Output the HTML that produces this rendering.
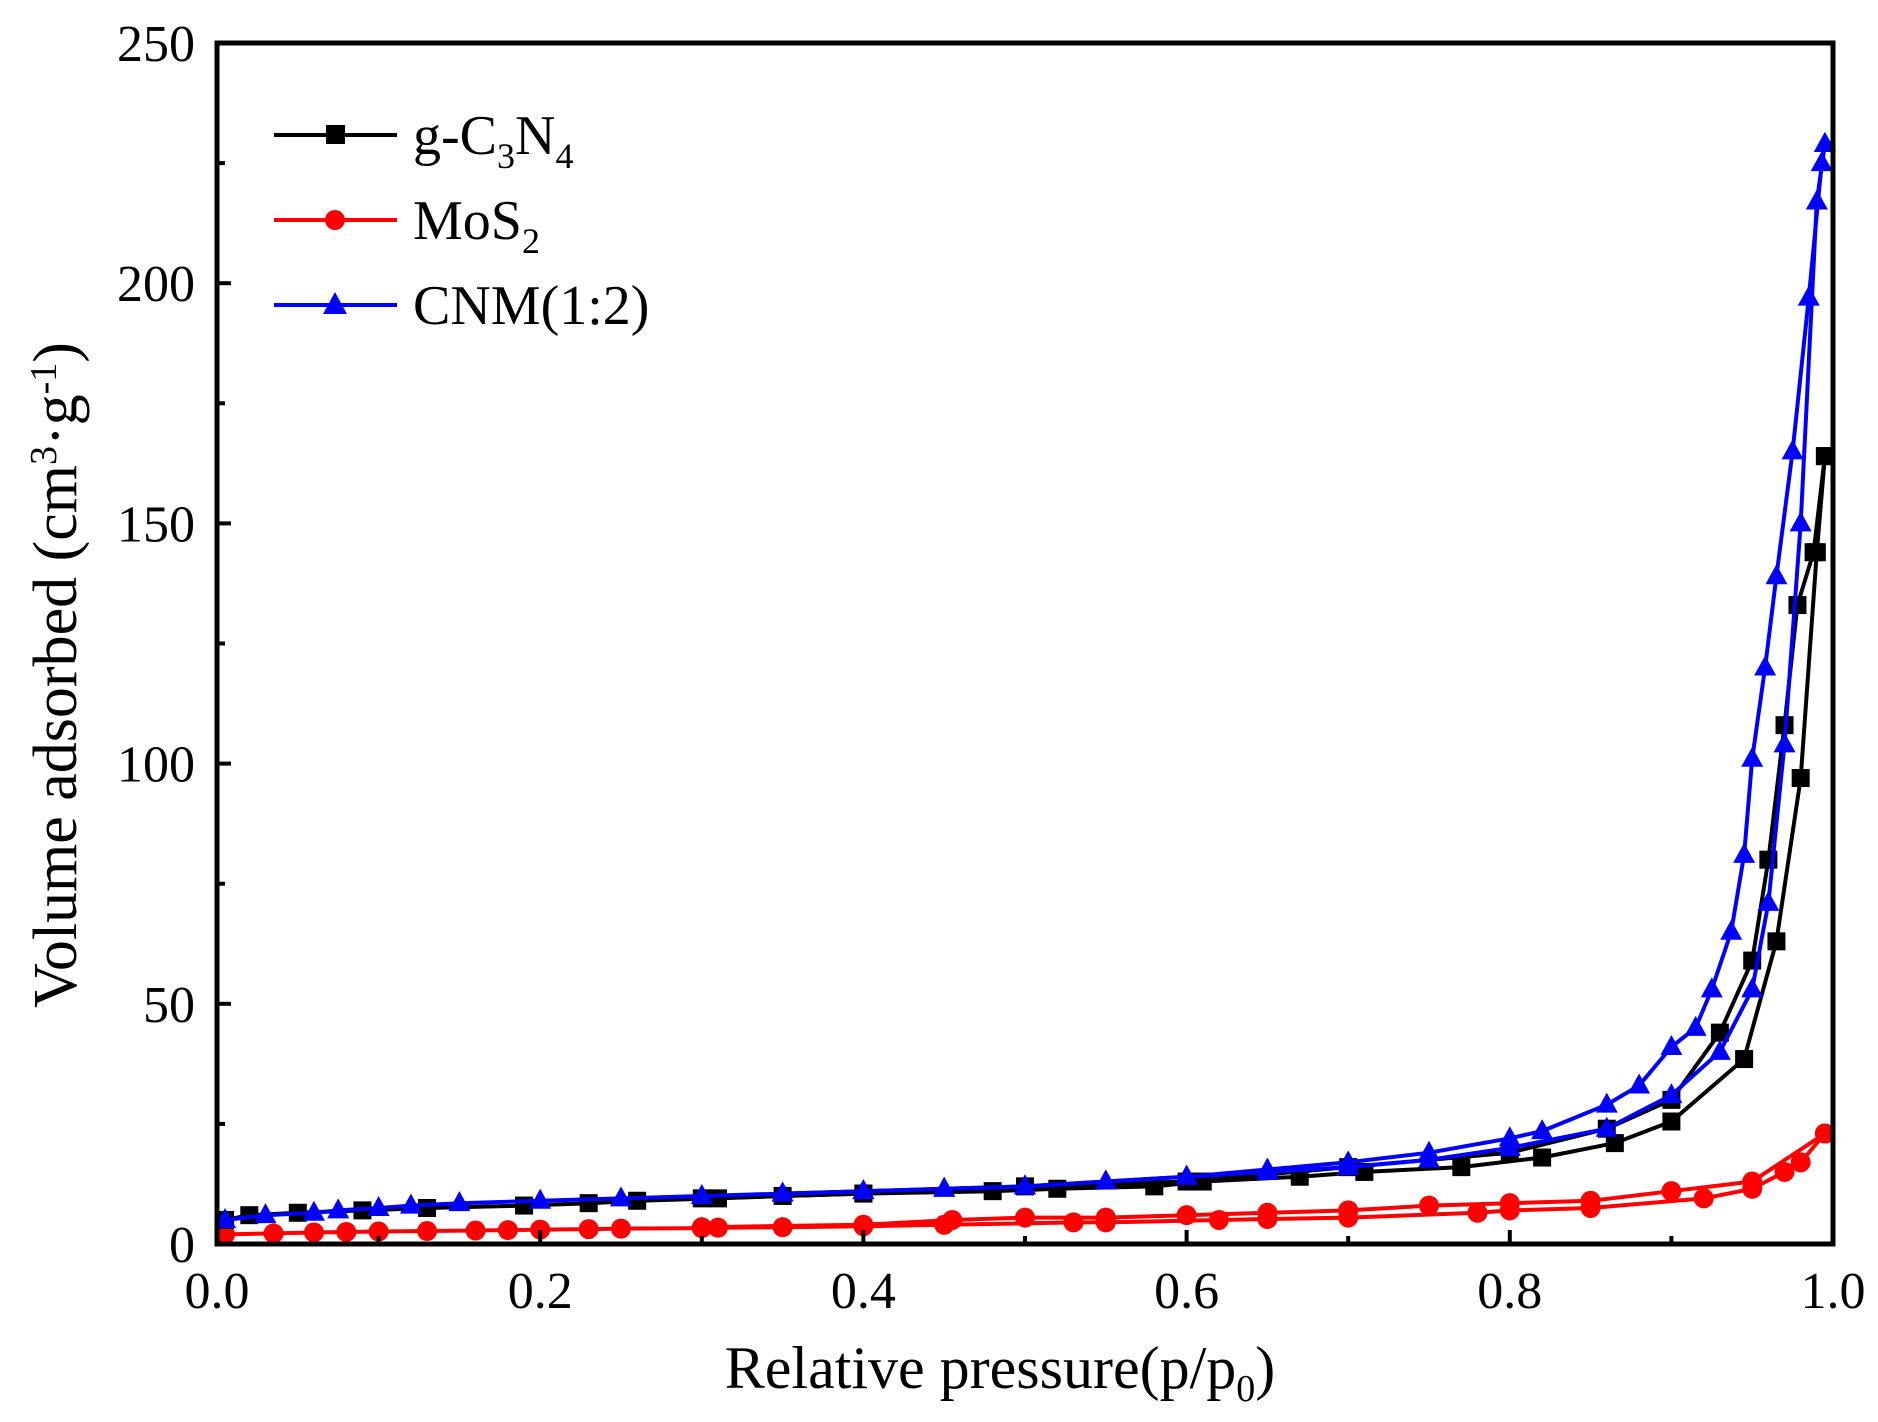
<!DOCTYPE html>
<html><head><meta charset="utf-8"><style>
html,body{margin:0;padding:0;background:#fff;}
svg text{font-family:"Liberation Serif",serif;fill:#000;}
</style></head><body>
<svg id="chart" width="1878" height="1417" viewBox="0 0 1878 1417" xmlns="http://www.w3.org/2000/svg">
<g id="plot"></g>
<g id="axes"></g>
<g>
  <g>
    <line x1="274" y1="135" x2="397" y2="135" stroke="#000" stroke-width="4"/>
    <rect x="326" y="125" width="19" height="19" fill="#000"/>
    <text x="413" y="154" font-size="56">g-C<tspan font-size="36" dy="14">3</tspan><tspan dy="-14">N</tspan><tspan font-size="36" dy="14">4</tspan></text>
  </g>
  <g>
    <line x1="274" y1="220" x2="397" y2="220" stroke="#f00" stroke-width="4"/>
    <circle cx="335" cy="220" r="10" fill="#f00"/>
    <text x="413" y="239" font-size="56">MoS<tspan font-size="36" dy="14">2</tspan></text>
  </g>
  <g>
    <line x1="274" y1="305" x2="397" y2="305" stroke="#00f" stroke-width="4"/>
    <polygon points="335,292 347,314 323,314" fill="#00f"/>
    <text x="413" y="324" font-size="56">CNM(1:2)</text>
  </g>
</g>
<text x="1000" y="1388" font-size="60" text-anchor="middle">Relative pressure(p/p<tspan font-size="38" dy="13">0</tspan><tspan dy="-13">)</tspan></text>
<text transform="translate(76,675) rotate(-90)" font-size="62" text-anchor="middle">Volume adsorbed (cm<tspan font-size="38" dy="-20">3</tspan><tspan dy="20">·g</tspan><tspan font-size="38" dy="-20">-1</tspan><tspan dy="20">)</tspan></text>
</svg>
<script>
const xTicks=[0,0.2,0.4,0.6,0.8,1.0];
const xTickLabels=["0.0","0.2","0.4","0.6","0.8","1.0"];
const yTicks=[0,50,100,150,200,250];
const yTickLabels=["0","50","100","150","200","250"];
const gAdsX=[0.005,0.02,0.05,0.09,0.13,0.19,0.23,0.26,0.31,0.35,0.40,0.48,0.52,0.58,0.61,0.67,0.71,0.77,0.82,0.865,0.9,0.945,0.965,0.98,0.99,0.995];
const gAdsY=[5,6,6.5,7,7.5,8,8.5,9,9.5,10,10.5,11,11.5,12,13,14,15,16,18,21,25.5,38.5,63,97,144,164];
const gDesX=[0.995,0.988,0.978,0.97,0.96,0.95,0.93,0.9,0.86,0.8,0.7,0.6,0.5,0.4,0.3];
const gDesY=[164,144,133,108,80,59,44,30,24,19,16,13,12,10.5,9.5];
const mAdsX=[0.005,0.035,0.06,0.08,0.1,0.13,0.16,0.18,0.2,0.23,0.25,0.3,0.31,0.35,0.40,0.45,0.53,0.55,0.62,0.65,0.70,0.78,0.8,0.85,0.92,0.95,0.97,0.98,0.995];
const mAdsY=[2,2.2,2.4,2.5,2.6,2.7,2.8,2.9,3,3.1,3.2,3.3,3.4,3.5,3.7,4,4.5,4.5,5,5.2,5.5,6.5,7,7.5,9.5,11.5,15,17,23];
const mDesX=[0.995,0.95,0.9,0.85,0.8,0.75,0.7,0.65,0.6,0.55,0.5,0.455,0.4,0.3];
const mDesY=[23,13,11,9,8.5,8,7,6.5,6,5.5,5.5,5,4,3.5];
const cAdsX=[0.005,0.03,0.06,0.075,0.1,0.12,0.15,0.2,0.25,0.3,0.35,0.4,0.45,0.5,0.55,0.6,0.65,0.7,0.75,0.8,0.86,0.9,0.93,0.95,0.96,0.97,0.98,0.99,0.995];
const cAdsY=[5,6,6.5,7,7.5,8,8.5,9,9.5,10,10.5,11,11.5,12,13,14,15,16,17.5,20,24,31,40,53,71,104,150,217,229];
const cDesX=[0.995,0.993,0.985,0.975,0.965,0.958,0.95,0.945,0.937,0.925,0.915,0.9,0.88,0.86,0.82,0.8,0.75,0.7,0.65,0.6,0.55,0.5,0.45,0.4,0.35];
const cDesY=[229,225,197,165,139,120,101,81,65,53,45,41,33,29,23.5,22,19,17,15.5,14,13,12,11.5,11,10.5];

const L=217,R=1833,T=43,B=1244;
const sx=v=>L+v*(R-L);
const sy=v=>B-v/250*(B-T);
const NS="http://www.w3.org/2000/svg";
const plot=document.getElementById('plot'),axes=document.getElementById('axes');
function mk(tag,attrs,parent){const e=document.createElementNS(NS,tag);for(const k in attrs)e.setAttribute(k,attrs[k]);parent.appendChild(e);return e;}
function series(xs,ys,color,shape,name){
  const g=mk('g',{},plot);
  
  
  const pts=xs.map((x,i)=>sx(x).toFixed(1)+','+sy(ys[i]).toFixed(1)).join(' ');
  const pl=mk('polyline',{points:pts,fill:'none',stroke:color,'stroke-width':4,'stroke-linejoin':'round'},g);
  
  
  xs.forEach((x,i)=>{
    const cx=sx(x),cy=sy(ys[i]);let m;
    if(shape==='sq')m=mk('rect',{x:cx-9,y:cy-9,width:18,height:18,fill:color},g);
    else if(shape==='ci')m=mk('circle',{cx:cx,cy:cy,r:10,fill:color},g);
    else m=mk('polygon',{points:`${cx},${cy-12} ${cx+11},${cy+8} ${cx-11},${cy+8}`,fill:color},g);
    
    
  });
}
series(mAdsX,mAdsY,'#f00','ci','mos2-adsorption');
series(mDesX,mDesY,'#f00','ci','mos2-desorption');
series(gAdsX,gAdsY,'#000','sq','gc3n4-adsorption');
series(gDesX,gDesY,'#000','sq','gc3n4-desorption');
series(cAdsX,cAdsY,'#00f','tr','cnm-adsorption');
series(cDesX,cDesY,'#00f','tr','cnm-desorption');

const frame=mk('rect',{x:L,y:T,width:R-L,height:B-T,fill:'none',stroke:'#000','stroke-width':5},axes);


xTicks.forEach((v,i)=>{
  const x=sx(v);
  const t=mk('line',{x1:x,y1:B,x2:x,y2:B-14,stroke:'#000','stroke-width':4},axes);
  
  
  if(i<xTicks.length-1){const m=mk('line',{x1:sx(v+0.1),y1:B,x2:sx(v+0.1),y2:B-8,stroke:'#000','stroke-width':4},axes);
  
  }
  const lb=mk('text',{x:x,y:B+64,'font-size':52,'text-anchor':'middle','font-family':'Liberation Sans, sans-serif'},axes);
  lb.textContent=xTickLabels[i];
  
  
});
yTicks.forEach((v,i)=>{
  const y=sy(v);
  const t=mk('line',{x1:L,y1:y,x2:L+14,y2:y,stroke:'#000','stroke-width':4},axes);
  
  
  if(i<yTicks.length-1){const m=mk('line',{x1:L,y1:sy(v+25),x2:L+8,y2:sy(v+25),stroke:'#000','stroke-width':4},axes);
  
  }
  const lb=mk('text',{x:L-22,y:y+18,'font-size':52,'text-anchor':'end','font-family':'Liberation Sans, sans-serif'},axes);
  lb.textContent=yTickLabels[i];
  
  
});
</script>
</body></html>
